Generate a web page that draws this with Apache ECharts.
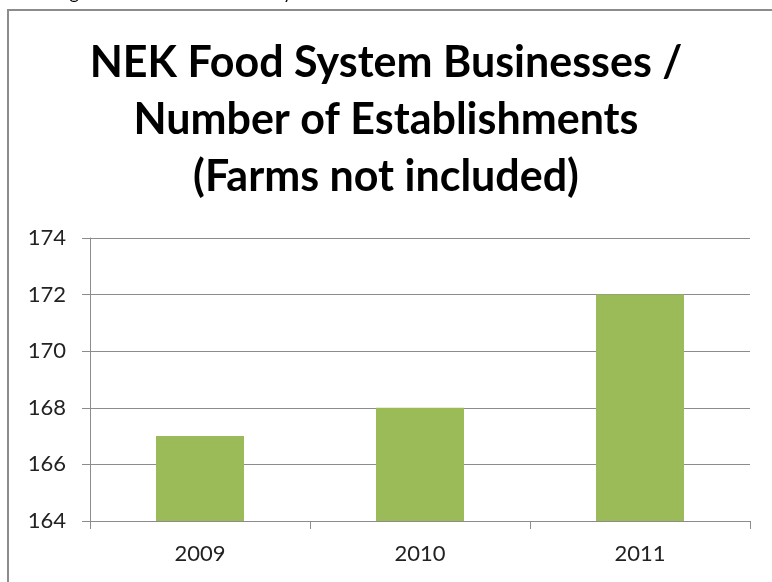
<!DOCTYPE html>
<html>
<head>
<meta charset="utf-8">
<script src="https://cdn.jsdelivr.net/npm/echarts@6/dist/echarts.min.js"></script>
<style>html,body{margin:0;padding:0;background:#fff}#c{width:772px;height:582px}</style>
</head>
<body>
<div id="c"></div>
<script>
const categories = ['2009', '2010', '2011'];
const establishments = [167, 168, 172];
const yTicks = [164, 166, 168, 170, 172, 174];
const titleText = 'NEK Food System Businesses /\nNumber of Establishments\n(Farms not included)';
const captionText = 'Figure 11: Number of Food System Establishments in the NEK';

const chart = echarts.init(document.getElementById('c'));
chart.setOption({
  animation: false,
  backgroundColor: '#fff',
  title: {
    text: titleText,
    left: 'center',
    top: 30,
    textStyle: { fontFamily: 'Lato', fontWeight: 'bold', fontSize: 43, lineHeight: 57, color: '#000' }
  },
  graphic: [
    { type: 'rect', shape: { x: 8, y: 10, width: 800, height: 620 }, style: { fill: 'none', stroke: '#8c8c8c', lineWidth: 2 }, silent: true },
    { type: 'text', left: 55, top: -16, style: { text: captionText, font: '18px Lato', fill: '#000' }, silent: true }
  ],
  grid: { left: 90, right: 22, top: 238, bottom: 61 },
  xAxis: {
    type: 'category',
    data: categories,
    axisLine: { lineStyle: { color: '#8c8c8c', width: 1 } },
    axisTick: { show: true, alignWithLabel: false, length: 8, lineStyle: { color: '#8c8c8c' } },
    axisLabel: { fontFamily: 'Lato', fontSize: 22, color: '#222', margin: 22 }
  },
  yAxis: {
    type: 'value',
    min: yTicks[0],
    max: yTicks[yTicks.length - 1],
    interval: 2,
    axisLine: { show: true, lineStyle: { color: '#8c8c8c', width: 1 } },
    axisTick: { show: true, length: 8, lineStyle: { color: '#8c8c8c' } },
    axisLabel: { fontFamily: 'Lato', fontSize: 22, color: '#222', margin: 24 },
    splitLine: { lineStyle: { color: '#8c8c8c', width: 1 } }
  },
  series: [{
    type: 'bar',
    data: establishments,
    barWidth: '40%',
    itemStyle: { color: '#9bbb59' }
  }]
});
</script>
</body>
</html>
